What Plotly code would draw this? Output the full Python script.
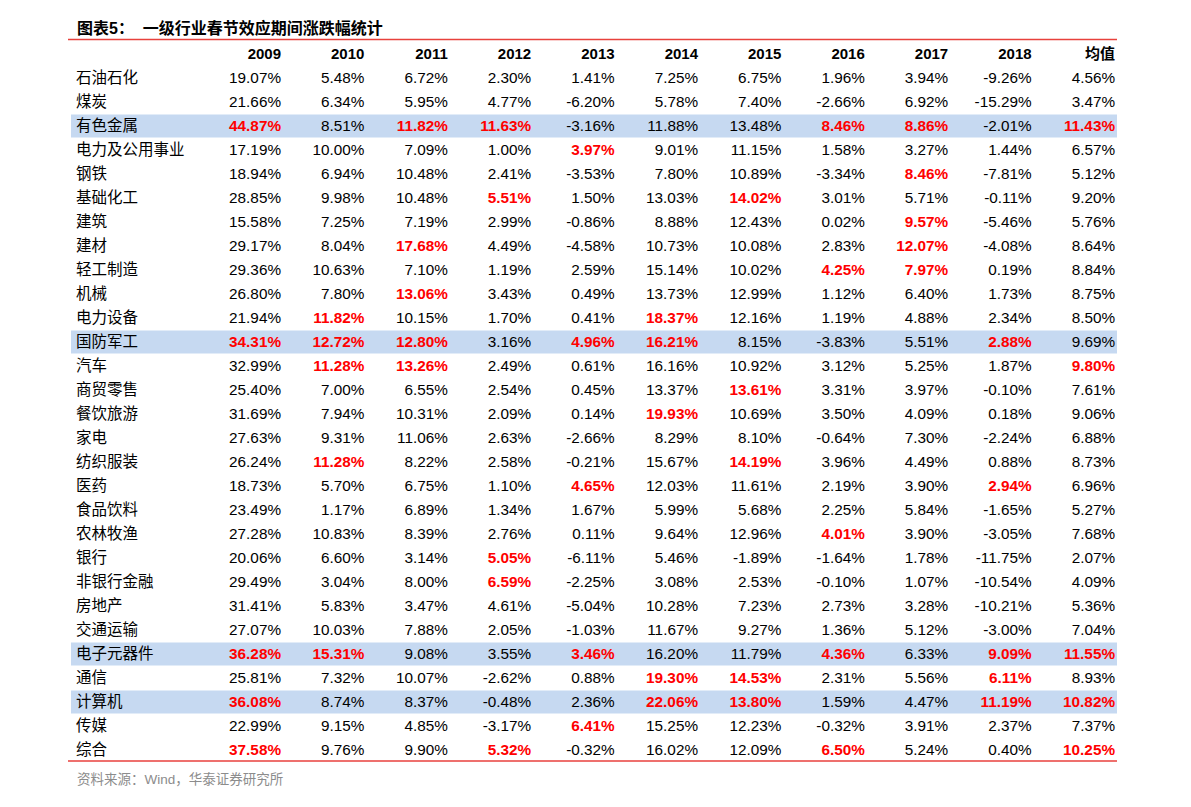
import plotly.graph_objects as go

industries = ["石油石化", "煤炭", "有色金属", "电力及公用事业", "钢铁", "基础化工", "建筑", "建材",
              "轻工制造", "机械", "电力设备", "国防军工", "汽车", "商贸零售", "餐饮旅游", "家电",
              "纺织服装", "医药", "食品饮料", "农林牧渔", "银行", "非银行金融", "房地产", "交通运输",
              "电子元器件", "通信", "计算机", "传媒", "综合"]

columns = ["2009", "2010", "2011", "2012", "2013", "2014", "2015", "2016", "2017", "2018", "均值"]

v2009 = [19.07, 21.66, 44.87, 17.19, 18.94, 28.85, 15.58, 29.17, 29.36, 26.80, 21.94, 34.31, 32.99, 25.40,
         31.69, 27.63, 26.24, 18.73, 23.49, 27.28, 20.06, 29.49, 31.41, 27.07, 36.28, 25.81, 36.08, 22.99, 37.58]
v2010 = [5.48, 6.34, 8.51, 10.00, 6.94, 9.98, 7.25, 8.04, 10.63, 7.80, 11.82, 12.72, 11.28, 7.00,
         7.94, 9.31, 11.28, 5.70, 1.17, 10.83, 6.60, 3.04, 5.83, 10.03, 15.31, 7.32, 8.74, 9.15, 9.76]
v2011 = [6.72, 5.95, 11.82, 7.09, 10.48, 10.48, 7.19, 17.68, 7.10, 13.06, 10.15, 12.80, 13.26, 6.55,
         10.31, 11.06, 8.22, 6.75, 6.89, 8.39, 3.14, 8.00, 3.47, 7.88, 9.08, 10.07, 8.37, 4.85, 9.90]
v2012 = [2.30, 4.77, 11.63, 1.00, 2.41, 5.51, 2.99, 4.49, 1.19, 3.43, 1.70, 3.16, 2.49, 2.54,
         2.09, 2.63, 2.58, 1.10, 1.34, 2.76, 5.05, 6.59, 4.61, 2.05, 3.55, -2.62, -0.48, -3.17, 5.32]
v2013 = [1.41, -6.20, -3.16, 3.97, -3.53, 1.50, -0.86, -4.58, 2.59, 0.49, 0.41, 4.96, 0.61, 0.45,
         0.14, -2.66, -0.21, 4.65, 1.67, 0.11, -6.11, -2.25, -5.04, -1.03, 3.46, 0.88, 2.36, 6.41, -0.32]
v2014 = [7.25, 5.78, 11.88, 9.01, 7.80, 13.03, 8.88, 10.73, 15.14, 13.73, 18.37, 16.21, 16.16, 13.37,
         19.93, 8.29, 15.67, 12.03, 5.99, 9.64, 5.46, 3.08, 10.28, 11.67, 16.20, 19.30, 22.06, 15.25, 16.02]
v2015 = [6.75, 7.40, 13.48, 11.15, 10.89, 14.02, 12.43, 10.08, 10.02, 12.99, 12.16, 8.15, 10.92, 13.61,
         10.69, 8.10, 14.19, 11.61, 5.68, 12.96, -1.89, 2.53, 7.23, 9.27, 11.79, 14.53, 13.80, 12.23, 12.09]
v2016 = [1.96, -2.66, 8.46, 1.58, -3.34, 3.01, 0.02, 2.83, 4.25, 1.12, 1.19, -3.83, 3.12, 3.31,
         3.50, -0.64, 3.96, 2.19, 2.25, 4.01, -1.64, -0.10, 2.73, 1.36, 4.36, 2.31, 1.59, -0.32, 6.50]
v2017 = [3.94, 6.92, 8.86, 3.27, 8.46, 5.71, 9.57, 12.07, 7.97, 6.40, 4.88, 5.51, 5.25, 3.97,
         4.09, 7.30, 4.49, 3.90, 5.84, 3.90, 1.78, 1.07, 3.28, 5.12, 6.33, 5.56, 4.47, 3.91, 5.24]
v2018 = [-9.26, -15.29, -2.01, 1.44, -7.81, -0.11, -5.46, -4.08, 0.19, 1.73, 2.34, 2.88, 1.87, -0.10,
         0.18, -2.24, 0.88, 2.94, -1.65, -3.05, -11.75, -10.54, -10.21, -3.00, 9.09, 6.11, 11.19, 2.37, 0.40]
v_avg = [4.56, 3.47, 11.43, 6.57, 5.12, 9.20, 5.76, 8.64, 8.84, 8.75, 8.50, 9.69, 9.80, 7.61,
         9.06, 6.88, 8.73, 6.96, 5.27, 7.68, 2.07, 4.09, 5.36, 7.04, 11.55, 8.93, 10.82, 7.37, 10.25]

series = [v2009, v2010, v2011, v2012, v2013, v2014, v2015, v2016, v2017, v2018, v_avg]

# cells shown in bold red
red_cells = {
    "有色金属": ["2009", "2011", "2012", "2016", "2017", "均值"],
    "电力及公用事业": ["2013"],
    "钢铁": ["2017"],
    "基础化工": ["2012", "2015"],
    "建筑": ["2017"],
    "建材": ["2011", "2017"],
    "轻工制造": ["2016", "2017"],
    "机械": ["2011"],
    "电力设备": ["2010", "2014"],
    "国防军工": ["2009", "2010", "2011", "2013", "2014", "2018"],
    "汽车": ["2010", "2011", "均值"],
    "商贸零售": ["2015"],
    "餐饮旅游": ["2014"],
    "纺织服装": ["2010", "2015"],
    "医药": ["2013", "2018"],
    "农林牧渔": ["2016"],
    "银行": ["2012"],
    "非银行金融": ["2012"],
    "电子元器件": ["2009", "2010", "2013", "2016", "2018", "均值"],
    "通信": ["2014", "2015", "2018"],
    "计算机": ["2009", "2014", "2015", "2018", "均值"],
    "传媒": ["2013"],
    "综合": ["2009", "2012", "2016", "均值"],
}
highlight_rows = ["有色金属", "国防军工", "电子元器件", "计算机"]

title_text = "图表5：  一级行业春节效应期间涨跌幅统计"
source_text = "资料来源：Wind，华泰证券研究所"

# ---- layout constants (axis units = page pixels) ----
W, H = 1191, 807
OFF = 8  # page body margin
ROW0, ROW_STEP = 78, 24
TEXT_DY = 1.5
HEADER_Y = 54
COL0, COL_STEP = 281, 83.4
LABEL_X = 76
TABLE_L, TABLE_R = 71, 1117
RED = "#FF0000"
LINE_RED = "#E8413C"
HL = "#C6D9F1"
NUM_FONT = "Liberation Sans, Arial, sans-serif"
CJK_FONT = "Noto Sans CJK SC, sans-serif"

row_y = [ROW0 + i * ROW_STEP for i in range(len(industries))]
text_y = [y + TEXT_DY for y in row_y]
col_x = [COL0 + j * COL_STEP for j in range(len(columns))]

fig = go.Figure()

# highlight bands
for name in highlight_rows:
    y = row_y[industries.index(name)]
    fig.add_shape(type="rect", xref="x", yref="y", x0=TABLE_L, x1=TABLE_R,
                  y0=y - ROW_STEP / 2 + 0.5, y1=y + ROW_STEP / 2 - 0.5,
                  fillcolor=HL, line=dict(width=0), layer="below")

# header
fig.add_trace(go.Scatter(
    x=col_x, y=[HEADER_Y + TEXT_DY] * len(columns), mode="text",
    text=[f"<b>{c}</b>" for c in columns], textposition="middle left",
    textfont=dict(family=NUM_FONT + ", " + CJK_FONT, size=15, color="black"),
    hoverinfo="skip", showlegend=False))

# row labels
fig.add_trace(go.Scatter(
    x=[LABEL_X] * len(industries), y=text_y, mode="text",
    text=industries, textposition="middle right",
    textfont=dict(family=CJK_FONT, size=15.5, color="black"),
    hoverinfo="skip", showlegend=False))

# value columns
for j, (col, vals) in enumerate(zip(columns, series)):
    texts, colors = [], []
    for name, v in zip(industries, vals):
        s = f"{v:.2f}%"
        if col in red_cells.get(name, []):
            texts.append(f"<b>{s}</b>")
            colors.append(RED)
        else:
            texts.append(s)
            colors.append("black")
    fig.add_trace(go.Scatter(
        x=[col_x[j]] * len(vals), y=text_y, mode="text",
        text=texts, textposition="middle left",
        textfont=dict(family=NUM_FONT, size=15.3, color=colors),
        hoverinfo="skip", showlegend=False))

# red rules
fig.add_shape(type="line", xref="x", yref="y", x0=68, x1=TABLE_R, y0=39.5, y1=39.5,
              line=dict(color=LINE_RED, width=1.5))
fig.add_shape(type="line", xref="x", yref="y", x0=68, x1=TABLE_R, y0=761, y1=761,
              line=dict(color=LINE_RED, width=1.5))

# title and source
fig.add_annotation(x=LABEL_X - 1, y=27.5, xref="x", yref="y", xanchor="left", yanchor="middle",
                   text=f"<b>{title_text}</b>", showarrow=False,
                   font=dict(family=NUM_FONT + ", " + CJK_FONT, size=16, color="black"))
fig.add_annotation(x=LABEL_X - 1, y=779, xref="x", yref="y", xanchor="left", yanchor="middle",
                   text=source_text, showarrow=False,
                   font=dict(family=NUM_FONT + ", " + CJK_FONT, size=13.5, color="#8C8C8C"))

fig.update_layout(
    width=W, height=H, margin=dict(l=0, r=0, t=0, b=0),
    paper_bgcolor="white", plot_bgcolor="white",
    xaxis=dict(range=[OFF, W + OFF], visible=False, fixedrange=True),
    yaxis=dict(range=[H + OFF, OFF], visible=False, fixedrange=True),
)

fig.write_html("out.html")
